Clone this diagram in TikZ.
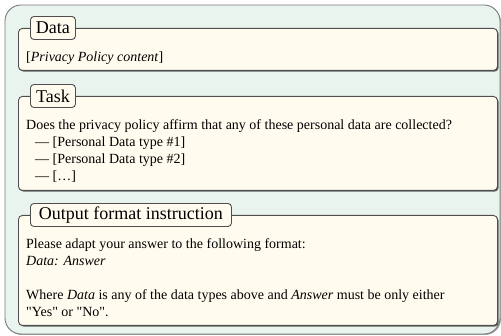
\documentclass[tikz,border=0pt]{standalone}
\usepackage{fontspec}
\setmainfont{Liberation Serif}[Ligatures=TeXOff]
\usetikzlibrary{shadows}
\definecolor{outerfill}{HTML}{EAF4EE}
\definecolor{outerline}{HTML}{7A7A7A}
\definecolor{panelfill}{HTML}{FFFCEF}
\definecolor{panelline}{HTML}{4E4E4E}
\newcommand{\bodysize}{\fontsize{14}{17}\selectfont}
\newcommand{\titlesize}{\fontsize{18}{20}\selectfont}
\begin{document}
\begin{tikzpicture}[x=1pt,y=1pt,
  outerbox/.style={draw=outerline, line width=0.9pt, fill=outerfill,
    rounded corners=16pt,
    drop shadow={shadow xshift=1pt, shadow yshift=-1pt, fill=black, opacity=0.35}},
  panel/.style={draw=panelline, line width=0.9pt, fill=panelfill,
    rounded corners=4pt, anchor=north west, inner sep=0pt,
    minimum width=479pt,
    drop shadow={shadow xshift=1.2pt, shadow yshift=-1.2pt, fill=black, opacity=0.6}},
  tag/.style={draw=panelline, line width=0.9pt, fill=panelfill,
    rounded corners=3.5pt, anchor=west, inner sep=0pt,
    minimum height=23pt, font=\titlesize},
  body/.style={anchor=base west, inner sep=0pt, font=\bodysize}]
  \useasboundingbox (0,0) rectangle (501,336);

  % outer frame
  \path[outerbox] (5,2) rectangle (500,331);

  % panels
  \node[panel, minimum height=42pt]  (datapanel) at (18,308) {};
  \node[panel, minimum height=94pt]  (taskpanel) at (18,240) {};
  \node[panel, minimum height=110pt] (outpanel)  at (18,121) {};

  % panel titles sitting on the top edges
  \node[tag, minimum width=45pt]  (datatag) at (30,308) {Data};
  \node[tag, minimum width=45pt]  (tasktag) at (30,240) {Task};
  \node[tag, minimum width=201pt] (outtag)  at (30,121) {Output format instruction};

  % data panel text
  \node[body] (datatext) at (26,274) {[\textit{Privacy Policy content}]};

  % task panel text
  \node[body] (taskq) at (26,206) {Does the privacy policy affirm that any of these personal data are collected?};
  \node[body] (item1) at (35,189) {— [Personal Data type \#1]};
  \node[body] (item2) at (35,172) {— [Personal Data type \#2]};
  \node[body] (item3) at (35,155) {— […]};

  % output panel text
  \node[body] (outl1) at (26,87) {Please adapt your answer to the following format:};
  \node[body] (outl2) at (26,70) {\textit{Data: Answer}};
  \node[body] (outl3) at (26,36) {Where \textit{Data} is any of the data types above and \textit{Answer} must be only either};
  \node[body] (outl4) at (26,19) {"Yes" or "No".};
\end{tikzpicture}
\end{document}
